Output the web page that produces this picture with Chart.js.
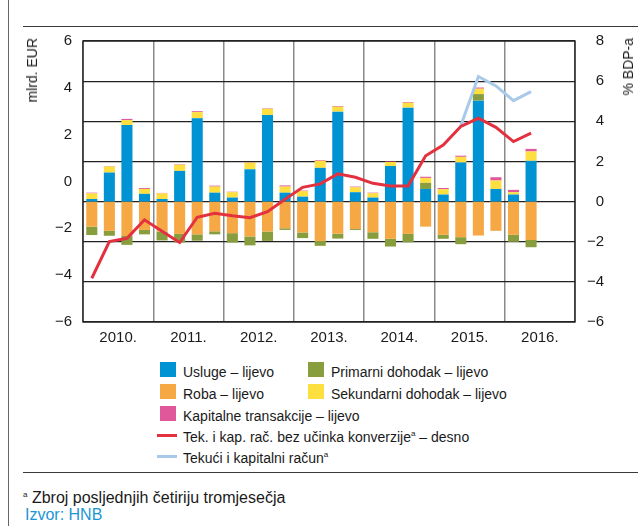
<!DOCTYPE html>
<html>
<head>
<meta charset="utf-8">
<script src="https://cdn.jsdelivr.net/npm/chart.js@4.4.1/dist/chart.umd.min.js"></script>
<style>
  html, body { margin: 0; padding: 0; background: #fff; }
  body { width: 638px; height: 526px; position: relative; overflow: hidden;
         font-family: "Liberation Sans", Arial, sans-serif; color: #1a1a1a; }
  #cv { position: absolute; left: 0; top: 0; }
  .rule { position: absolute; background: #3a3a3a; }
  .vt { position: absolute; writing-mode: vertical-rl; transform: rotate(180deg);
        font-size: 14px; line-height: 16px; white-space: nowrap; }
  .lg { position: absolute; font-size: 14px; line-height: 20px; height: 20px; white-space: nowrap; }
  .sw { position: absolute; width: 16px; height: 15px; }
  .ln { position: absolute; width: 20px; height: 3px; }
  sup { font-size: 8px; vertical-align: 0; position: relative; top: -6px; }
  .fn { position: absolute; font-size: 16px; line-height: 18px; white-space: nowrap; }
</style>
</head>
<body>
<canvas id="cv" width="638" height="352"></canvas>

<div class="rule" style="left:8px;top:0;width:1px;height:526px;background:#666"></div>
<div class="rule" style="left:23px;top:26px;width:615px;height:1.3px"></div>
<div class="rule" style="left:23px;top:472px;width:615px;height:1.3px"></div>

<div class="vt" style="left:24px;top:38px;">mlrd. EUR</div>
<div class="vt" style="left:620px;top:38px;">% BDP-a</div>

<div class="sw" style="left:160px;top:362px;background:#0093d4"></div>
<div class="lg" style="left:183px;top:362px;">Usluge – lijevo</div>
<div class="sw" style="left:308px;top:362px;background:#889e3e"></div>
<div class="lg" style="left:331px;top:362px;">Primarni dohodak – lijevo</div>

<div class="sw" style="left:160px;top:384px;background:#f5a843"></div>
<div class="lg" style="left:183px;top:384px;">Roba – lijevo</div>
<div class="sw" style="left:308px;top:384px;background:#fddf40"></div>
<div class="lg" style="left:331px;top:384px;">Sekundarni dohodak – lijevo</div>

<div class="sw" style="left:160px;top:406px;background:#e0579a"></div>
<div class="lg" style="left:183px;top:406px;">Kapitalne transakcije – lijevo</div>

<div class="ln" style="left:157px;top:434px;background:#e4313f"></div>
<div class="lg" style="left:183px;top:427px;">Tek. i kap. rač. bez učinka konverzije<sup>a</sup> – desno</div>

<div class="ln" style="left:157px;top:455px;background:#a8c9ea"></div>
<div class="lg" style="left:183px;top:448px;">Tekući i kapitalni račun<sup>a</sup></div>

<div class="fn" style="left:23px;top:489px;"><sup>a</sup> Zbroj posljednjih četiriju tromjesečja</div>
<div class="fn" style="left:25px;top:506px;color:#1b96d4;">Izvor: HNB</div>

<script>
// ---- data ----
const years = ['2010.', '2011.', '2012.', '2013.', '2014.', '2015.', '2016.'];
const quarterNames = ['I.', 'II.', 'III.', 'IV.'];

// bars, billion EUR (quarterly)
const usluge    = [0.11, 1.24, 3.27, 0.33,  0.11, 1.31, 3.56, 0.38,  0.17, 1.38, 3.70, 0.38,
                   0.21, 1.44, 3.84, 0.40,  0.17, 1.52, 4.01, 0.54,  0.30, 1.67, 4.31, 0.54,
                   0.30, 1.74, null, null];
const roba      = [-1.07, -1.25, -1.47, -1.21,  -1.28, -1.38, -1.40, -1.27,  -1.35, -1.49, -1.28, -1.14,
                   -1.32, -1.68, -1.37, -1.17,  -1.31, -1.59, -1.38, -1.07,  -1.42, -1.52, -1.45, -1.25,
                   -1.42, -1.64, null, null];
const primarni  = [-0.36, -0.21, -0.38, -0.19,  -0.38, -0.37, -0.27, -0.13,  -0.40, -0.38, -0.40, -0.07,
                   -0.24, -0.21, -0.21, -0.04,  -0.28, -0.33, -0.36, 0.26,   -0.17, -0.30, 0.28, 0.00,
                   -0.30, -0.31, null, null];
const sekundarni= [0.24, 0.26, 0.21, 0.21,  0.24, 0.26, 0.26, 0.26,  0.23, 0.28, 0.26, 0.26,
                   0.24, 0.30, 0.21, 0.21,  0.19, 0.17, 0.21, 0.21,  0.23, 0.24, 0.23, 0.36,
                   0.10, 0.40, null, null];
const kapitalne = [0.03, 0.02, 0.05, 0.04,  0.02, 0.02, 0.04, 0.04,  0.02, 0.02, 0.02, 0.05,
                   0.02, 0.03, 0.03, 0.03,  0.02, 0.02, 0.03, 0.05,  0.05, 0.05, 0.05, 0.14,
                   0.10, 0.11, null, null];

// lines, % of GDP (sum of last four quarters)
const bezKonverzije = [-3.82, -1.99, -1.83, -0.91,  -1.48, -2.04, -0.78, -0.58,  -0.71, -0.80, -0.50, 0.12,
                       0.71, 0.88, 1.38, 1.21,  0.91, 0.78, 0.78, 2.28,  2.82, 3.74, 4.15, 3.70,
                       2.99, 3.41, null, null];
const tekuciKapitalni = [null, null, null, null,  null, null, null, null,  null, null, null, null,
                         null, null, null, null,  null, null, null, null,  null, 3.78, 6.23, 5.76,
                         5.03, 5.48, null, null];

const leftTicks = { min: -6, max: 6, step: 2 };
const rightTicks = { min: -6, max: 8, step: 2 };

// ---- chart ----
const quarterLabels = years.flatMap(y => quarterNames.map(q => q + y));
const FONT = '"Liberation Sans", Arial, sans-serif';
Chart.defaults.font.family = FONT;
Chart.defaults.color = '#1a1a1a';

const fmt = v => String(v).replace('-', '\u2212');

const barDs = (label, data, color) => ({
  type: 'bar', label, data, backgroundColor: color, borderWidth: 0,
  xAxisID: 'x', yAxisID: 'yB', stack: 's', order: 3,
  barPercentage: 0.63, categoryPercentage: 1.0
});

const framePlugin = {
  id: 'frame',
  beforeDatasetsDraw(chart) {
    const { ctx, chartArea: a } = chart;
    ctx.save();
    ctx.strokeStyle = '#222';
    ctx.lineWidth = 1.4;
    ctx.strokeRect(a.left, a.top, a.right - a.left, a.bottom - a.top);
    ctx.restore();
  }
};

new Chart(document.getElementById('cv'), {
  type: 'bar',
  data: {
    labels: quarterLabels,
    datasets: [
      {
        type: 'line', label: 'Tek. i kap. rač. bez učinka konverzije', data: bezKonverzije,
        borderColor: '#e4313f', borderWidth: 3, pointRadius: 0, tension: 0, fill: false,
        xAxisID: 'x', yAxisID: 'yR', order: 0
      },
      {
        type: 'line', label: 'Tekući i kapitalni račun', data: tekuciKapitalni,
        borderColor: '#a8c9ea', borderWidth: 3, pointRadius: 0, tension: 0, fill: false,
        xAxisID: 'x', yAxisID: 'yR', order: 1
      },
      barDs('Usluge', usluge, '#0093d4'),
      barDs('Roba', roba, '#f5a843'),
      barDs('Primarni dohodak', primarni, '#889e3e'),
      barDs('Sekundarni dohodak', sekundarni, '#fddf40'),
      barDs('Kapitalne transakcije', kapitalne, '#e0579a')
    ]
  },
  options: {
    responsive: false,
    animation: false,
    layout: { padding: { top: 41, right: 34, left: 0, bottom: 0 } },
    plugins: { legend: { display: false }, tooltip: { enabled: false } },
    scales: {
      x: { type: 'category', display: false, stacked: true, offset: true },
      xY: {
        type: 'category', labels: years, position: 'bottom', offset: true,
        grid: { offset: true, color: '#8a8a8a', lineWidth: 1.5, drawTicks: false },
        border: { display: false },
        ticks: { font: { size: 15 }, padding: 7, maxRotation: 0, autoSkip: false },
        afterFit(s) { s.height = 30; }
      },
      yB: { display: false, stacked: true, min: -36 / 7, max: 48 / 7 },
      yL: {
        position: 'left', min: leftTicks.min, max: leftTicks.max,
        ticks: { stepSize: leftTicks.step, font: { size: 15 }, padding: 11, callback: fmt },
        grid: { display: false, drawTicks: false },
        border: { display: false },
        afterFit(s) { s.width = 83; }
      },
      yR: {
        position: 'right', min: rightTicks.min, max: rightTicks.max,
        ticks: { stepSize: rightTicks.step, font: { size: 15 }, crossAlign: 'far', callback: fmt },
        grid: { color: '#222', lineWidth: 1.2, drawTicks: false },
        border: { display: false },
        afterFit(s) { s.width = 29; }
      }
    }
  },
  plugins: [framePlugin]
});
</script>
</body>
</html>
